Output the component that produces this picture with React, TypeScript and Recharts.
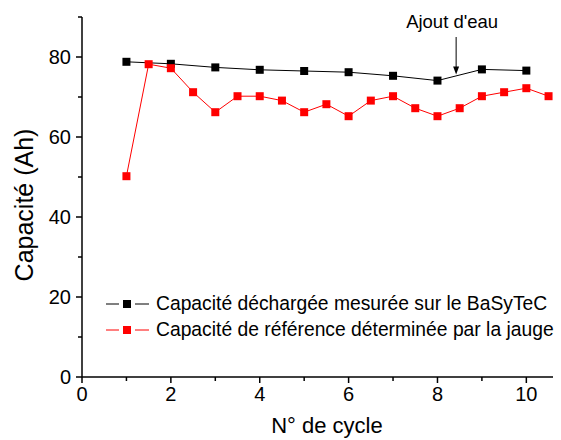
import { LineChart, Line, XAxis, YAxis, ReferenceLine, Label } from "recharts";

// cycle numbers and values
const cyclesMeasured = [1, 2, 3, 4, 5, 6, 7, 8, 9, 10];
const capMeasured = [78.8, 78.3, 77.4, 76.8, 76.5, 76.2, 75.3, 74.1, 76.9, 76.6];

const cyclesGauge = [1, 1.5, 2, 2.5, 3, 3.5, 4, 4.5, 5, 5.5, 6, 6.5, 7, 7.5, 8, 8.5, 9, 9.5, 10, 10.5];
const capGauge = [50.2, 78.2, 77.2, 71.2, 66.2, 70.2, 70.2, 69.1, 66.2, 68.2, 65.2, 69.1, 70.2, 67.2, 65.2, 67.2, 70.2, 71.2, 72.2, 70.2];

const xTicks = [0, 1, 2, 3, 4, 5, 6, 7, 8, 9, 10];
const yTicks = [0, 10, 20, 30, 40, 50, 60, 70, 80, 90];

const seriesNames = [
  "Capacité déchargée mesurée sur le BaSyTeC",
  "Capacité de référence déterminée par la jauge",
];
const seriesColors = ["#000000", "#ff0000"];

const annotationText = "Ajout d'eau";
const annotationX = 8.42;
const annotationFrom = 85;
const annotationTo = 75.6;

const measuredData = cyclesMeasured.map((x, i) => ({ x, y: capMeasured[i] }));
const gaugeData = cyclesGauge.map((x, i) => ({ x, y: capGauge[i] }));

const FONT = '"Liberation Sans", Arial, sans-serif';

function SquareDot(color: string) {
  return (props: any) => {
    const { cx, cy, index } = props;
    if (cx == null || cy == null) return <g key={index} />;
    return <rect key={index} x={cx - 4} y={cy - 4} width={8} height={8} fill={color} />;
  };
}

function XTick(props: any) {
  const { x, y, payload } = props;
  const major = payload.value % 2 === 0;
  return (
    <g>
      <line x1={x} y1={y} x2={x} y2={y + (major ? 6 : 4)} stroke="#000" strokeWidth={1.5} />
      {major && (
        <text x={x} y={y + 24} textAnchor="middle" fontSize={20} fill="#000" fontFamily={FONT}>
          {payload.value}
        </text>
      )}
    </g>
  );
}

function YTick(props: any) {
  const { x, y, payload } = props;
  const major = payload.value % 20 === 0;
  return (
    <g>
      <line x1={x} y1={y} x2={x - (major ? 6 : 4)} y2={y} stroke="#000" strokeWidth={1.5} />
      {major && (
        <text x={x - 11} y={y} dy="0.36em" textAnchor="end" fontSize={20} fill="#000" fontFamily={FONT}>
          {payload.value}
        </text>
      )}
    </g>
  );
}

function ArrowShape(props: any) {
  const { x1, y1, x2, y2 } = props;
  if (x1 == null) return <g />;
  return (
    <g>
      <text x={x1 - 4} y={y1 - 9} textAnchor="middle" fontSize={18.5} fill="#000" fontFamily={FONT}>
        {annotationText}
      </text>
      <line x1={x1} y1={y1} x2={x2} y2={y2 - 6} stroke="#000" strokeWidth={1} />
      <polygon points={`${x2 - 3},${y2 - 8} ${x2 + 3},${y2 - 8} ${x2},${y2}`} fill="#000" />
    </g>
  );
}

export default function App() {
  return (
    <div style={{ position: "absolute", left: 0, top: 0, width: 561, height: 440, background: "#fff", fontFamily: FONT }}>
      <LineChart
        width={561}
        height={440}
        margin={{ top: 17, right: 8, left: 0, bottom: 0 }}
      >
        <XAxis
          type="number"
          dataKey="x"
          domain={[0, 10.6]}
          ticks={xTicks}
          interval={0}
          allowDataOverflow
          height={63}
          tickSize={0}
          tickMargin={0}
          tickLine={false}
          axisLine={{ stroke: "#000", strokeWidth: 1.5 }}
          tick={<XTick />}
        >
          <Label
            content={() => (
              <text x={327} y={433} textAnchor="middle" fontSize={22} fill="#000" fontFamily={FONT}>
                N° de cycle
              </text>
            )}
          />
        </XAxis>
        <YAxis
          type="number"
          dataKey="y"
          domain={[0, 90]}
          ticks={yTicks}
          interval={0}
          allowDataOverflow
          width={82}
          tickSize={0}
          tickMargin={0}
          tickLine={false}
          axisLine={{ stroke: "#000", strokeWidth: 1.5 }}
          tick={<YTick />}
        >
          <Label
            content={() => (
              <text
                x={24}
                y={205}
                transform="rotate(-90 24 205)"
                textAnchor="middle"
                dominantBaseline="central"
                fontSize={25}
                fill="#000"
                fontFamily={FONT}
              >
                Capacité (Ah)
              </text>
            )}
          />
        </YAxis>
        <Line
          data={measuredData}
          dataKey="y"
          name={seriesNames[0]}
          stroke={seriesColors[0]}
          strokeWidth={1}
          dot={SquareDot(seriesColors[0])}
          activeDot={false}
          isAnimationActive={false}
        />
        <Line
          data={gaugeData}
          dataKey="y"
          name={seriesNames[1]}
          stroke={seriesColors[1]}
          strokeWidth={1}
          dot={SquareDot(seriesColors[1])}
          activeDot={false}
          isAnimationActive={false}
        />
        <ReferenceLine
          segment={[
            { x: annotationX, y: annotationFrom },
            { x: annotationX, y: annotationTo },
          ]}
          stroke="#000"
          shape={ArrowShape}
        />
      </LineChart>
      {/* legend, bottom left inside the plot */}
      <div style={{ position: "absolute", left: 106, top: 291, fontSize: 19.3, lineHeight: "26px", color: "#000" }}>
        {seriesNames.map((name, i) => (
          <div key={name} style={{ display: "flex", alignItems: "center", height: 26, whiteSpace: "nowrap" }}>
            <svg width={44} height={10} style={{ marginRight: 6 }}>
              <line x1={0} y1={5} x2={13} y2={5} stroke={seriesColors[i]} strokeWidth={1} />
              <rect x={17} y={1} width={8} height={8} fill={seriesColors[i]} />
              <line x1={29} y1={5} x2={43} y2={5} stroke={seriesColors[i]} strokeWidth={1} />
            </svg>
            <span>{name}</span>
          </div>
        ))}
      </div>
    </div>
  );
}
